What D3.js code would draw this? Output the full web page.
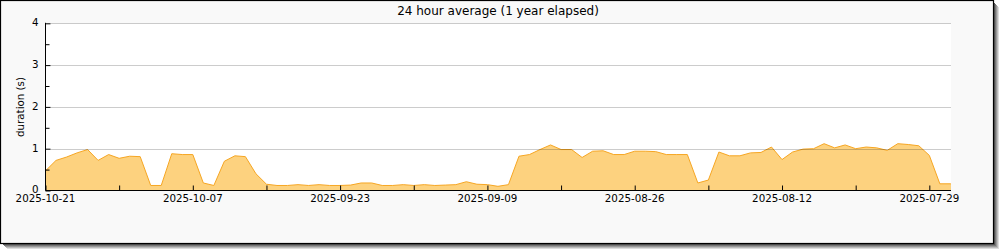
<!DOCTYPE html>
<html>
<head>
<meta charset="utf-8">
<script src="https://cdn.jsdelivr.net/npm/d3@7"></script>
<style>
  html, body { margin: 0; padding: 0; background: #ffffff; }
  svg { display: block; }
  text { font-family: "DejaVu Sans", sans-serif; fill: #000; }
</style>
</head>
<body>
<svg id="chart" width="1000" height="250"></svg>
<script>
// ---- data ----
const titleText = "24 hour average (1 year elapsed)";
const yLabel = "duration (s)";
// daily values, starting 2025-10-21 and going back one day per entry
const startDay = "2025-10-21";
const durations = [
  0.47, 0.72, 0.80, 0.90, 0.98, 0.72, 0.86, 0.77, 0.82, 0.81,
  0.12, 0.12, 0.88, 0.86, 0.86, 0.18, 0.12, 0.70, 0.83, 0.81,
  0.40, 0.15, 0.12, 0.12, 0.14, 0.12, 0.14, 0.12, 0.12, 0.13,
  0.18, 0.18, 0.12, 0.12, 0.14, 0.12, 0.14, 0.12, 0.13, 0.14,
  0.21, 0.15, 0.14, 0.10, 0.14, 0.82, 0.86, 0.98, 1.09, 0.98,
  0.98, 0.79, 0.94, 0.95, 0.86, 0.86, 0.94, 0.94, 0.93, 0.86,
  0.86, 0.86, 0.18, 0.25, 0.92, 0.83, 0.83, 0.90, 0.91, 1.04,
  0.74, 0.92, 0.99, 1.00, 1.12, 1.02, 1.09, 1.00, 1.04, 1.02,
  0.96, 1.12, 1.10, 1.07, 0.84, 0.16, 0.16
];
const xTickLabels = ["2025-10-21", "2025-10-07", "2025-09-23", "2025-09-09", "2025-08-26", "2025-08-12", "2025-07-29"];
const yTickValues = [0, 1, 2, 3, 4];
const yMinorTicks = [0.5, 1.5, 2.5, 3.5];

// ---- layout ----
const W = 1000, H = 250;
const plot = { left: 45.5, right: 951, top: 23.3, bottom: 190.5 };
const DAY = 86400000;
const t0 = Date.UTC(2025, 9, 21);
const tEnd = t0 - 86.06 * DAY;

const svg = d3.select("#chart");

// frame shadow
const shadowCols = ["#555", "#777", "#999", "#bbb", "#ddd"];
shadowCols.forEach((c, i) => {
  svg.append("line").attr("x1", 994.5 + i).attr("x2", 994.5 + i)
    .attr("y1", 3 + i).attr("y2", 245 + i).attr("stroke", c);
  svg.append("line").attr("x1", 3 + i).attr("x2", 995 + i)
    .attr("y1", 244.5 + i).attr("y2", 244.5 + i).attr("stroke", c);
});
svg.append("rect").attr("x", 0.5).attr("y", 0.5).attr("width", 993).attr("height", 243)
  .attr("fill", "#f9f9f9").attr("stroke", "#000").attr("stroke-width", 1.2);

const x = d3.scaleUtc().domain([new Date(t0), new Date(tEnd)]).range([plot.left, plot.right]);
const y = d3.scaleLinear().domain([0, 4]).range([plot.bottom, plot.top]);

// plot background
svg.append("rect").attr("x", plot.left).attr("y", plot.top)
  .attr("width", plot.right - plot.left).attr("height", plot.bottom - plot.top)
  .attr("fill", "#ffffff");

const series = durations.map((v, i) => ({ t: new Date(t0 - i * DAY), v }));

const area = d3.area().x(d => x(d.t)).y0(y(0)).y1(d => y(d.v));
const line = d3.line().x(d => x(d.t)).y(d => y(d.v));
// extend last value to the right edge
const ext = series.concat([{ t: new Date(tEnd), v: series[series.length - 1].v }]);
svg.append("path").datum(ext).attr("d", area).attr("fill", "#fdd27f");
svg.append("path").datum(ext).attr("d", line).attr("fill", "none")
  .attr("stroke", "#f6a623").attr("stroke-width", 1);

// grid lines
svg.append("g").selectAll("line").data(yTickValues.filter(v => v > 0)).join("line")
  .attr("x1", plot.left + 5).attr("x2", plot.right)
  .attr("y1", d => Math.round(y(d)) + 0.5).attr("y2", d => Math.round(y(d)) + 0.5)
  .attr("stroke", "rgba(0,0,0,0.2)").attr("stroke-width", 1);

// y axis
const yAxis = d3.axisRight(y).tickValues(yTickValues).tickSize(5).tickFormat("");
const gy = svg.append("g").attr("transform", `translate(${plot.left},0)`).call(yAxis);
gy.select(".domain").remove();
gy.selectAll(".tick line").attr("stroke", "#000");
const yMinor = d3.axisRight(y).tickValues(yMinorTicks).tickSize(4).tickFormat("");
const gym = svg.append("g").attr("transform", `translate(${plot.left},0)`).call(yMinor);
gym.select(".domain").remove();
gym.selectAll(".tick line").attr("stroke", "#000");
svg.append("line").attr("x1", plot.left).attr("x2", plot.left)
  .attr("y1", plot.top - 0.5).attr("y2", plot.bottom).attr("stroke", "#000");
svg.append("g").selectAll("text").data(yTickValues).join("text")
  .attr("x", 38.5).attr("y", d => y(d) + 2.8)
  .attr("text-anchor", "end").attr("font-size", "10.3px").text(d => d);

// x axis
const weekTicks = d3.range(0, 13).map(k => new Date(t0 - k * 7 * DAY));
const xAxis = d3.axisTop(x).tickValues(weekTicks).tickSize(5).tickFormat("");
const gx = svg.append("g").attr("transform", `translate(0,${plot.bottom})`).call(xAxis);
gx.select(".domain").remove();
gx.selectAll(".tick line").attr("stroke", "#000");
svg.append("line").attr("x1", plot.left).attr("x2", plot.right)
  .attr("y1", plot.bottom).attr("y2", plot.bottom).attr("stroke", "#000");
const parse = d3.utcParse("%Y-%m-%d");
svg.append("g").selectAll("text").data(xTickLabels).join("text")
  .attr("x", d => x(parse(d))).attr("y", 202)
  .attr("text-anchor", "middle").attr("font-size", "10.3px").text(d => d);

// title
svg.append("text").attr("x", 498).attr("y", 15).attr("text-anchor", "middle")
  .attr("font-size", "12px").text(titleText);

// y label
svg.append("text").attr("transform", "translate(23.5,107) rotate(-90)")
  .attr("text-anchor", "middle").attr("font-size", "10.3px").text(yLabel);
</script>
</body>
</html>
